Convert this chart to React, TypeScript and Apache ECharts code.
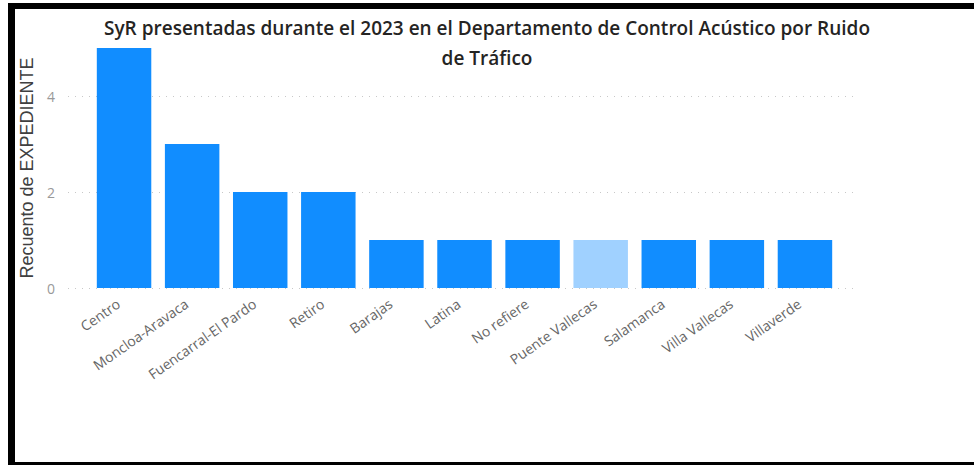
import React, { useEffect, useRef } from "react";
import * as echarts from "echarts";

const categories = [
  "Centro",
  "Moncloa-Aravaca",
  "Fuencarral-El Pardo",
  "Retiro",
  "Barajas",
  "Latina",
  "No refiere",
  "Puente Vallecas",
  "Salamanca",
  "Villa Vallecas",
  "Villaverde",
];
const values = [5, 3, 2, 2, 1, 1, 1, 1, 1, 1, 1];
const highlighted = ["Puente Vallecas"];
const yTicks = [0, 2, 4];

const titleText =
  "SyR presentadas durante el 2023 en el Departamento de Control Acústico por Ruido\nde Tráfico";
const yName = "Recuento de EXPEDIENTE";

export default function App() {
  const ref = useRef<HTMLDivElement>(null);
  useEffect(() => {
    if (!ref.current) return;
    const chart = echarts.init(ref.current, null, { renderer: "svg" });
    const yMax = 5;
    chart.setOption({
      animation: false,
      backgroundColor: "#ffffff",
      title: {
        text: titleText,
        left: "center",
        top: 8,
        textStyle: {
          fontFamily: "Open Sans",
          fontSize: 19,
          fontWeight: 600,
          color: "#252423",
          lineHeight: 30,
          align: "center",
        },
      },
      grid: [
        { left: 90, right: 135, top: 48, bottom: 177 },
        { left: 68, right: 119, top: 48, bottom: 177 },
      ],
      xAxis: [
        {
          type: "category",
          gridIndex: 0,
          data: categories,
          axisLine: { show: false },
          axisTick: { show: false },
          axisLabel: {
            rotate: 35,
            interval: 0,
            margin: 10,
            padding: [0, 7, 0, 0],
            fontFamily: "Open Sans",
            fontSize: 14,
            color: "#666666",
          },
        },
        { type: "value", gridIndex: 1, show: false, min: 0, max: 1 },
      ],
      yAxis: [
        { type: "value", gridIndex: 0, min: 0, max: yMax, show: false },
        {
          type: "value",
          gridIndex: 1,
          min: yTicks[0],
          max: yMax,
          interval: yTicks[1] - yTicks[0],
          name: yName,
          nameLocation: "middle",
          nameRotate: 90,
          nameGap: 26,
          nameTextStyle: {
            fontFamily: "Liberation Sans",
            fontSize: 18,
            color: "#404040",
          },
          axisLine: { show: false },
          axisTick: { show: false },
          axisLabel: {
            margin: 13,
            fontFamily: "Open Sans",
            fontSize: 14,
            color: "#999999",
            showMaxLabel: false,
          },
          splitLine: {
            show: true,
            showMaxLine: false,
            lineStyle: { color: "#c8c8c8", width: 1, type: [1, 6] },
          },
        },
      ],
      series: [
        {
          type: "bar",
          xAxisIndex: 0,
          yAxisIndex: 0,
          barCategoryGap: "20%",
          data: categories.map((c, i) => ({
            value: values[i],
            itemStyle: {
              color: highlighted.includes(c) ? "#a0d1ff" : "#118dff",
            },
          })),
        },
      ],
      graphic: [
        { type: "rect", shape: { x: 8, y: 3, width: 7, height: 462 }, style: { fill: "#000" }, z: 100 },
        { type: "rect", shape: { x: 8, y: 3, width: 966, height: 6 }, style: { fill: "#000" }, z: 100 },
        { type: "rect", shape: { x: 8, y: 462, width: 966, height: 3 }, style: { fill: "#000" }, z: 100 },
      ],
    });
    return () => chart.dispose();
  }, []);
  return (
    <div
      ref={ref}
      style={{ position: "absolute", left: 0, top: 0, width: 974, height: 465 }}
    />
  );
}
